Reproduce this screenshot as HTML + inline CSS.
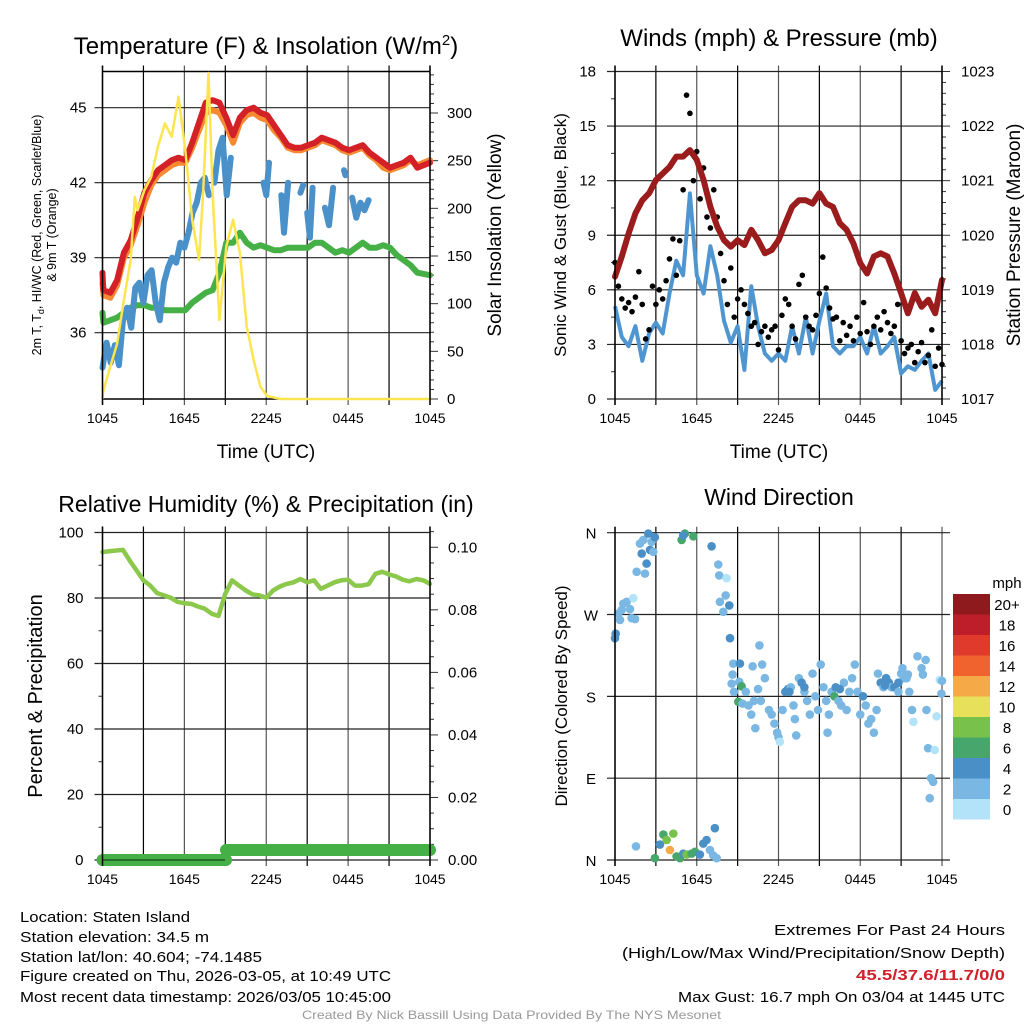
<!DOCTYPE html>
<html><head><meta charset="utf-8"><style>
html,body{margin:0;padding:0;background:#fff;}
svg{display:block;font-family:"Liberation Sans",sans-serif;}
</style></head><body>
<svg id="fig" width="1024" height="1024" viewBox="0 0 1024 1024" xmlns="http://www.w3.org/2000/svg">
<rect width="1024" height="1024" fill="#fff"/>
<g id="g1"></g>
<g id="g2"></g>
<g id="g3"></g>
<g id="g4"></g>
<g font-size="15" fill="#000">
<text x="20" y="922" textLength="170" lengthAdjust="spacingAndGlyphs">Location: Staten Island</text>
<text x="20" y="942" textLength="189" lengthAdjust="spacingAndGlyphs">Station elevation: 34.5 m</text>
<text x="20" y="962" textLength="242" lengthAdjust="spacingAndGlyphs">Station lat/lon: 40.604; -74.1485</text>
<text x="20" y="981" textLength="371" lengthAdjust="spacingAndGlyphs">Figure created on Thu, 2026-03-05, at 10:49 UTC</text>
<text x="20" y="1002" textLength="371" lengthAdjust="spacingAndGlyphs">Most recent data timestamp: 2026/03/05 10:45:00</text>
</g>
<g font-size="15" fill="#000">
<text x="774" y="935" textLength="231" lengthAdjust="spacingAndGlyphs">Extremes For Past 24 Hours</text>
<text x="622" y="958" textLength="383" lengthAdjust="spacingAndGlyphs">(High/Low/Max Wind/Precipitation/Snow Depth)</text>
<text x="856" y="980" textLength="149" lengthAdjust="spacingAndGlyphs" fill="#d0202a" font-weight="bold">45.5/37.6/11.7/0/0</text>
<text x="678" y="1002" textLength="327" lengthAdjust="spacingAndGlyphs">Max Gust: 16.7 mph On 03/04 at 1445 UTC</text>
</g>
<text x="302" y="1019" textLength="419" lengthAdjust="spacingAndGlyphs" font-size="12" fill="#999">Created By Nick Bassill Using Data Provided By The NYS Mesonet</text>
</svg>
<script>
// ---- data ----
const xTickLabels = ["1045","1645","2245","0445","1045"];
const halfHours = [0,0.5,1,1.5,2,2.5,3,3.5,4,4.5,5,5.5,6,6.5,7,7.5,8,8.5,9,9.5,10,10.5,11,11.5,12,12.5,13,13.5,14,14.5,15,15.5,16,16.5,17,17.5,18,18.5,19,19.5,20,20.5,21,21.5,22,22.5,23,23.5,24];
const tempHours = [0,0.03,0.07,0.57,1.07,1.57,2.07,2.57,3.07,3.57,4.07,4.57,5.07,5.57,6.07,6.57,7.07,7.57,8.07,8.57,9.07,9.57,10.07,10.57,11.07,11.57,12.07,12.57,13.07,13.57,14.07,14.57,15.07,15.57,16.07,16.57,17.07,17.57,18.07,18.57,19.07,19.57,20.07,20.57,21.07,21.57,22.07,22.57,23.07,24];
const tempRed = [38.4,38.0,37.7,37.6,38.1,39.2,39.7,40.6,41.6,42.1,42.5,42.7,42.9,43.0,42.9,43.6,44.4,45.2,45.3,45.2,44.6,43.9,44.6,44.9,45.0,44.8,44.7,44.3,43.9,43.5,43.4,43.4,43.5,43.6,43.8,43.7,43.6,43.4,43.3,43.4,43.5,43.2,43.0,42.8,42.6,42.7,42.8,43.0,42.6,42.8];
const tempOrange = [38.0,37.8,37.5,37.4,37.9,39.0,39.5,40.3,41.2,41.9,42.3,42.5,42.7,42.8,42.8,43.4,44.1,44.8,44.9,44.8,44.3,43.6,44.4,44.7,44.8,44.6,44.5,44.1,43.8,43.4,43.3,43.3,43.4,43.5,43.7,43.6,43.5,43.3,43.2,43.3,43.4,43.1,42.9,42.6,42.5,42.6,42.7,42.9,42.7,42.9];
const dewGreen = [36.8,36.6,36.4,36.5,36.6,36.8,37.0,37.1,37.1,37.0,37.0,36.9,36.9,36.9,36.9,37.2,37.4,37.6,37.7,38.4,39.6,39.6,40.0,39.6,39.4,39.5,39.4,39.3,39.3,39.4,39.4,39.4,39.4,39.6,39.6,39.4,39.2,39.3,39.2,39.4,39.6,39.4,39.4,39.5,39.4,39.1,38.9,38.7,38.4,38.3];
const blueHours = [0,0.3,0.6,0.9,1.2,1.5,1.8,2.1,2.4,2.7,3.0,3.3,3.6,3.9,4.2,4.5,4.8,5.1,5.4,5.7,6.0,6.3,6.6,6.9,7.2,7.5,7.8,8.0,8.2,8.5,8.8,9.1,9.4,9.6,11.8,12.0,12.2,12.4,13.1,13.3,13.6,13.8,14.5,14.7,14.9,15.0,15.2,15.4,15.6,16.3,16.6,16.9,17.1,17.7,17.8,18.0,18.3,18.6,18.9,19.2,19.5,19.7];
const hiBlue = [34.6,35.6,34.8,35.5,34.7,36.5,37.0,36.2,37.8,38.0,37.2,38.3,38.5,37.2,36.5,38.0,38.6,39.0,38.8,39.6,39.4,40.0,40.8,41.2,42.0,42.2,41.5,null,42.0,43.3,43.8,41.5,43.0,null,42.0,41.5,42.8,null,41.5,40.0,42.0,null,41.6,41.9,null,40.8,39.8,41.8,null,41.0,40.3,41.8,null,42.5,42.3,null,41.4,40.6,41.2,40.9,41.3,null];
const solarHours = [0,0,0.07,0.57,1.07,1.57,2.07,2.37,2.57,3.07,3.57,4.07,4.57,5.07,5.57,6.07,6.57,7.07,7.37,7.77,8.07,8.57,9.07,9.57,10.07,10.57,11.07,11.57,12.07,13.07,15.07,17.07,19.07,21.07,24];
const solar = [0,2,9,34,58,104,146,212,198,219,233,265,289,275,317,261,188,146,216,342,216,83,160,188,153,76,41,13,3,0,0,0,0,0,0];
const windBlue = [5.1,3.4,2.9,4.0,2.1,3.6,4.2,3.6,5.8,7.6,6.8,11.3,6.8,5.8,8.4,6.8,4.3,3.1,4.0,1.6,6.2,4.0,2.5,2.1,2.5,2.1,4.0,2.5,4.5,2.5,4.3,5.8,2.9,2.5,2.9,2.9,3.4,2.5,4.0,2.5,2.9,3.4,1.4,1.8,1.6,2.1,2.5,0.5,1.0];
const pressure = [1019.24,1019.61,1020.03,1020.40,1020.64,1020.77,1021.01,1021.13,1021.25,1021.44,1021.44,1021.56,1021.38,1021.01,1020.52,1020.16,1019.91,1019.79,1019.91,1019.82,1020.10,1019.91,1019.67,1019.73,1019.91,1020.22,1020.52,1020.64,1020.64,1020.58,1020.77,1020.58,1020.52,1020.22,1020.10,1019.85,1019.49,1019.30,1019.61,1019.67,1019.61,1019.30,1018.94,1018.57,1018.94,1018.69,1018.82,1018.57,1019.18];
const gust = [7.5,6.2,5.5,5.0,5.3,4.8,5.6,7.0,5.2,3.3,3.8,6.2,5.2,6.0,5.5,6.5,7.7,8.8,6.8,8.7,11.5,16.7,15.7,12.0,13.6,11.0,12.7,10.0,9.4,11.5,10.0,8.0,6.5,5.2,7.2,4.5,5.5,6.0,5.2,4.7,4.0,4.2,3.0,3.7,4.0,3.4,3.8,4.0,2.7,4.6,5.5,5.2,4.0,3.3,6.3,6.8,4.5,4.0,3.8,4.6,5.8,7.8,6.1,5.0,4.4,4.5,3.2,4.2,3.5,4.0,3.2,4.5,3.6,5.3,3.7,3.0,4.0,4.5,3.8,4.8,4.2,3.6,4.0,5.2,3.2,2.5,2.8,3.0,2.0,2.6,3.1,2.0,2.4,3.8,1.8,2.8,1.9];
const rh = [94.0,94.3,94.5,94.7,91.4,88.4,85.4,83.8,81.5,80.8,80.1,78.8,78.4,78.2,77.4,76.7,75.2,74.5,81.3,85.4,83.8,82.3,81.1,80.8,80.1,82.3,83.5,84.3,84.8,85.8,84.8,85.4,82.8,83.8,84.8,85.4,85.6,83.8,83.8,84.2,87.4,88.0,87.2,86.6,85.6,85.1,85.8,85.4,84.3];
const precipHours = [0,9.05,9.05,24];
const precip = [0,0,0.0032,0.0032];
const wdHours = [0,0.05,0.24,0.37,0.49,0.61,0.86,1.1,1.22,1.34,1.47,1.59,1.83,1.96,2.08,2.2,2.32,2.44,2.57,2.69,2.81,2.93,1.54,2.93,3.3,3.55,3.79,4.03,4.28,4.52,4.77,5.01,5.26,5.62,5.87,6.23,6.48,6.72,6.97,7.33,7.46,7.21,4.89,5.13,5.75,5.01,7.09,7.58,7.65,8.19,8.12,7.7,7.95,8.39,8.44,8.68,9.17,8.63,8.56,9.12,9.29,8.73,9.05,9.36,
9.6,9.8,10.0,10.2,10.3,10.5,10.7,10.1,10.8,11.0,10.6,11.3,11.5,11.7,11.9,12.0,12.1,12.3,12.5,12.7,12.9,13.1,13.2,13.3,13.5,13.7,13.9,14.1,14.3,14.5,14.7,14.9,15.1,15.3,15.5,15.6,15.7,15.9,16.1,16.2,16.4,16.6,16.8,17.0,17.2,17.4,17.6,17.8,18.0,18.2,18.4,18.6,18.8,19.0,19.2,19.3,19.5,19.7,19.9,20.1,20.3,20.5,20.8,21.0,21.2,21.4,21.6,21.8,21.9,22.2,22.5,22.6,22.8,22.86,22.98,23.1,23.2,23.35,23.47,23.6,23.84,23.96,24.0,21.1,21.5,12.8,13.9,16.5,19.8,20.8];
const wdDir = [244,249,271,264,275,282,284,276,266,288,265,317,348,337,352,315,326,359,341,350,339,355,15,2,17,28,22,11,29,4,2,7,6,7,9,6,18,22,11,35,2,5,352,359,356,357,345,325,313,310,291,284,273,280,244,216,216,204,194,196,191,185,174,172,
185,170,160,175,145,188,175,213,215,200,236,165,160,150,140,135,130,165,185,188,190,170,155,137,200,195,185,175,160,205,180,165,215,190,175,140,160,185,180,190,175,170,195,165,185,200,215,185,160,180,170,150,155,140,165,205,195,190,200,195,190,190,185,205,200,200,185,165,152,224,211,204,220,165,123,68,90,86,121,158,198,183,197,211,204,185,190,188,192,195];
const wdSpeed = [5,5,3,3,3,3,3,3,3,1,3,3,3,5,3,3,5,5,5,3,3,5,3,7,5,7,9,13,9,7,7,5,9,7,7,5,5,5,3,5,3,3,7,7,7,5,5,3,3,1,3,3,3,5,5,3,5,3,3,3,7,3,7,3,
3,3,3,3,3,3,3,3,3,3,3,3,3,3,3,3,1,3,5,5,3,3,3,3,3,5,3,3,3,3,3,3,3,3,3,3,3,3,7,5,3,3,3,3,3,3,3,3,3,5,3,3,3,3,3,3,5,3,5,5,3,5,3,3,3,3,3,3,1,3,3,3,3,3,3,3,3,3,1,1,1,3,3,3,3,5,5,5,5,5];
const colorbarLabels = ["0","2","4","6","8","10","12","14","16","18","20+"];
const colorbarColors = ["#b3e3f8","#7ab8e3","#4a8fc6","#47a66b","#78c14a","#e6e05a","#f5a947","#f0632e","#e03a2d","#be1e2a","#8f1a1e"];

const NS="http://www.w3.org/2000/svg";
function mk(parent,tag,attrs,text){const e=document.createElementNS(NS,tag);for(const k in attrs)e.setAttribute(k,attrs[k]);if(text!==undefined)e.textContent=text;parent.appendChild(e);return e;}
function lin(d0,d1,r0,r1){return v=>r0+(v-d0)*(r1-r0)/(d1-d0);}

function frame(g,L,T,R,B,nx){
  for(let i=0;i<=nx;i++){const x=L+(R-L)*i/nx;
    const l=mk(g,'line',{x1:x,y1:T-6,x2:x,y2:B+6,stroke:(i%2?'#000':'#555'),'stroke-width':1.2});
    
    }
}
function pathFrom(xs,ys,fx,fy){let d='',pen=false;for(let i=0;i<xs.length;i++){if(ys[i]===null){pen=false;continue;}d+=(pen?'L':'M')+fx(xs[i]).toFixed(1)+','+fy(ys[i]).toFixed(1);pen=true;}return d;}
function txt(g,x,y,s,size,anchor,extra){const a=Object.assign({x:x,y:y,'font-size':size,'text-anchor':anchor||'start',fill:'#000'},extra||{});return mk(g,'text',a,s);}

function xAxis(g,L,R,B,yl){
  xTickLabels.forEach((s,i)=>{const x=L+(R-L)*i/4;const t=txt(g,x,yl,s,14,'middle');
    
    });
}
function hgrid(g,L,R,y){const l=mk(g,'line',{x1:L-8,y1:y,x2:R,y2:y,stroke:'#222','stroke-width':1.2});
  
  }
function rticks(g,R,ys,minor){ys.forEach(y=>{const l=mk(g,'line',{x1:R,y1:y,x2:R+(minor?4:8),y2:y,stroke:'#333','stroke-width':1});
  
  });}

// ===== Panel 1 =====
(function(){
  const g=document.getElementById('g1');const L=102.5,R=430,T=71.5,B=399;
  const fx=lin(0,24,L,R), fy=lin(45,36,107.7,332.7), fs=lin(0,300,399,113);
  frame(g,L,T,R,B,8);
  [45,42,39,36].forEach(v=>{hgrid(g,L,R,fy(v));const t=txt(g,L-16,fy(v)+5,String(v),15,'end');
    
    });
  mk(g,'line',{x1:L,y1:T,x2:R,y2:T,stroke:'#000','stroke-width':1.5});
  mk(g,'line',{x1:L,y1:B,x2:R,y2:B,stroke:'#000','stroke-width':1.5});
  for(let v=0;v<=340;v+=10){rticks(g,R,[fs(v)],v%50!==0);}
  [0,50,100,150,200,250,300].forEach(v=>{const t=txt(g,R+17,fs(v)+5,String(v),15,'start');
    
    });
  let p=mk(g,'path',{d:pathFrom(tempHours,tempOrange,fx,fy),fill:'none',stroke:'#f58a32','stroke-width':6,'stroke-linejoin':'round','stroke-linecap':'round'});
  
  
  p=mk(g,'path',{d:pathFrom(tempHours,tempRed,fx,fy),fill:'none',stroke:'#d42027','stroke-width':6,'stroke-linejoin':'round','stroke-linecap':'round'});
  
  
  p=mk(g,'path',{d:pathFrom(tempHours,dewGreen,fx,fy),fill:'none',stroke:'#44b046','stroke-width':6,'stroke-linejoin':'round','stroke-linecap':'round'});
  
  
  p=mk(g,'path',{d:pathFrom(blueHours,hiBlue,fx,fy),fill:'none',stroke:'#4a90c9','stroke-width':6,'stroke-linejoin':'round','stroke-linecap':'round'});
  
  
  p=mk(g,'path',{d:pathFrom(solarHours,solar,fx,fs),fill:'none',stroke:'#fde54f','stroke-width':2.5,'stroke-linejoin':'round'});
  
  
  mk(g,'line',{x1:L,y1:T-6,x2:L,y2:B+6,stroke:'#000','stroke-width':1.5});
  mk(g,'line',{x1:R,y1:T-6,x2:R,y2:B+6,stroke:'#000','stroke-width':1.5});
  xAxis(g,L,R,B,423);
  let t=mk(g,'text',{x:266,y:54,'font-size':24,'text-anchor':'middle'});
  t.innerHTML='Temperature (F) &amp; Insolation (W/m<tspan dy="-9" font-size="15">2</tspan><tspan dy="9">)</tspan>';
  
  
  t=txt(g,266,458,'Time (UTC)',19,'middle');
  
  
  t=mk(g,'text',{x:0,y:0,'font-size':12.5,'text-anchor':'middle',transform:'translate(41,235) rotate(-90)'});
  t.innerHTML='2m T, T<tspan dy="3" font-size="9">d</tspan><tspan dy="-3">, HI/WC (Red, Green, Scarlet/Blue)</tspan>';
  
  
  t=mk(g,'text',{x:0,y:0,'font-size':12.5,'text-anchor':'middle',transform:'translate(56,235) rotate(-90)'},'& 9m T (Orange)');
  
  
  t=mk(g,'text',{x:0,y:0,'font-size':19,'text-anchor':'middle',transform:'translate(501,235) rotate(-90)'},'Solar Insolation (Yellow)');
  
  
})();

// ===== Panel 2 =====
(function(){
  const g=document.getElementById('g2');const L=615,R=942,T=71.5,B=399;
  const fx=lin(0,24,L,R), fy=lin(0,18,B,T), fp=lin(1017,1023,B,T);
  frame(g,L,T,R,B,8);
  [0,3,6,9,12,15,18].forEach(v=>{hgrid(g,L,R,fy(v));const t=txt(g,L-19,fy(v)+5,String(v),15,'end');
    
    });
  for(let v=0;v<=18;v+=1.5){const l=mk(g,'line',{x1:L-4,y1:fy(v),x2:L,y2:fy(v),stroke:'#333'});
    
    }
  for(let v=1017;v<=1023.001;v+=0.2){rticks(g,R,[fp(v)],Math.abs(v-Math.round(v))>0.01);}
  [1017,1018,1019,1020,1021,1022,1023].forEach(v=>{const t=txt(g,R+19,fp(v)+5,String(v),15,'start');
    
    });
  let p=mk(g,'path',{d:pathFrom(halfHours,windBlue,fx,fy),fill:'none',stroke:'#4f96d1','stroke-width':4,'stroke-linejoin':'round'});
  
  
  gust.forEach((v,i)=>{const c=mk(g,'circle',{cx:fx(i*0.25),cy:fy(v),r:2.8,fill:'#000'});
    
    });
  p=mk(g,'path',{d:pathFrom(halfHours,pressure,fx,fp),fill:'none',stroke:'#9b1c1c','stroke-width':6,'stroke-linejoin':'round','stroke-linecap':'round'});
  
  
  mk(g,'line',{x1:L,y1:T-6,x2:L,y2:B+6,stroke:'#000','stroke-width':1.5});
  mk(g,'line',{x1:R,y1:T-6,x2:R,y2:B+6,stroke:'#000','stroke-width':1.5});
  xAxis(g,L,R,B,423);
  let t=txt(g,779,46,'Winds (mph) & Pressure (mb)',24,'middle');
  
  
  t=txt(g,779,458,'Time (UTC)',19,'middle');
  
  
  t=mk(g,'text',{x:0,y:0,'font-size':17,'text-anchor':'middle',transform:'translate(566,235) rotate(-90)'},'Sonic Wind & Gust (Blue, Black)');
  
  
  t=mk(g,'text',{x:0,y:0,'font-size':19,'text-anchor':'middle',transform:'translate(1020,235) rotate(-90)'},'Station Pressure (Maroon)');
  
  
})();

// ===== Panel 3 =====
(function(){
  const g=document.getElementById('g3');const L=102.5,R=430,T=532.5,B=860;
  const fx=lin(0,24,L,R), fy=lin(0,100,B,T), fr=lin(0,0.1,B,547.3);
  frame(g,L,T,R,B,8);
  [0,20,40,60,80,100].forEach(v=>{hgrid(g,L,R,fy(v));const t=txt(g,L-19,fy(v)+5,String(v),15,'end');
    
    });
  for(let v=0;v<=100;v+=10){const l=mk(g,'line',{x1:L-4,y1:fy(v),x2:L,y2:fy(v),stroke:'#333'});
    
    }
  for(let k=0;k<=21;k++){const v=k*0.005;rticks(g,R,[fr(v)],k%4!==0);}
  [0,0.02,0.04,0.06,0.08,0.10].forEach(v=>{const t=txt(g,R+18,fr(v)+5,v.toFixed(2),15,'start');
    
    });
  let p=mk(g,'path',{d:pathFrom(halfHours,rh,fx,fy),fill:'none',stroke:'#8cc84b','stroke-width':4.5,'stroke-linejoin':'round','stroke-linecap':'round'});
  
  
  p=mk(g,'path',{d:pathFrom(precipHours.slice(0,2),precip.slice(0,2),fx,fr)+pathFrom(precipHours.slice(2),precip.slice(2),fx,fr),fill:'none',stroke:'#44b046','stroke-width':12,'stroke-linecap':'round'});
  
  
  mk(g,'line',{x1:L,y1:B,x2:225,y2:B,stroke:'#1d5a22','stroke-width':1.5});
  mk(g,'line',{x1:L,y1:T-6,x2:L,y2:B+6,stroke:'#000','stroke-width':1.5});
  mk(g,'line',{x1:R,y1:T-6,x2:R,y2:B+6,stroke:'#000','stroke-width':1.5});
  xAxis(g,L,R,B,884);
  let t=txt(g,266,512,'Relative Humidity (%) & Precipitation (in)',23,'middle');
  
  
  t=mk(g,'text',{x:0,y:0,'font-size':20,'text-anchor':'middle',transform:'translate(42,696) rotate(-90)'},'Percent & Precipitation');
  
  
})();

// ===== Panel 4 =====
(function(){
  const g=document.getElementById('g4');const L=615,R=942,T=532.7,B=860;
  const fx=lin(0,24,L,R), fy=lin(0,360,B,T);
  frame(g,L,T,R,B,8);
  const dirVals=[0,90,180,270,360], dirLabs=['N','E','S','W','N'];
  dirVals.forEach((v,i)=>{const l=mk(g,'line',{x1:L-8,y1:fy(v),x2:R+8,y2:fy(v),stroke:'#222','stroke-width':1.2});
    
    
    const t=txt(g,L-24,fy(v)+6,dirLabs[i],15,'middle');
    
    });
  wdHours.forEach((h,i)=>{const idx=Math.min(10,Math.floor(wdSpeed[i]/2));
    const c=mk(g,'circle',{cx:fx(h),cy:fy(wdDir[i]),r:4.3,fill:colorbarColors[idx]});
    
    });
  mk(g,'line',{x1:L,y1:T-6,x2:L,y2:B+6,stroke:'#000','stroke-width':1.5});
  xAxis(g,L,R,B,884);
  colorbarColors.forEach((c,i)=>{const y=799-i*20.5;
    const r=mk(g,'rect',{x:953,y:y,width:37,height:20.5,fill:c});
    
    
    const t=txt(g,1007,y+16,colorbarLabels[i],15,'middle');
    
    });
  let t=txt(g,1007,588,'mph',15,'middle');
  
  
  t=txt(g,779,505,'Wind Direction',23,'middle');
  
  
  t=mk(g,'text',{x:0,y:0,'font-size':17,'text-anchor':'middle',transform:'translate(567,696) rotate(-90)'},'Direction (Colored By Speed)');
  
  
})();
</script>
</body></html>
